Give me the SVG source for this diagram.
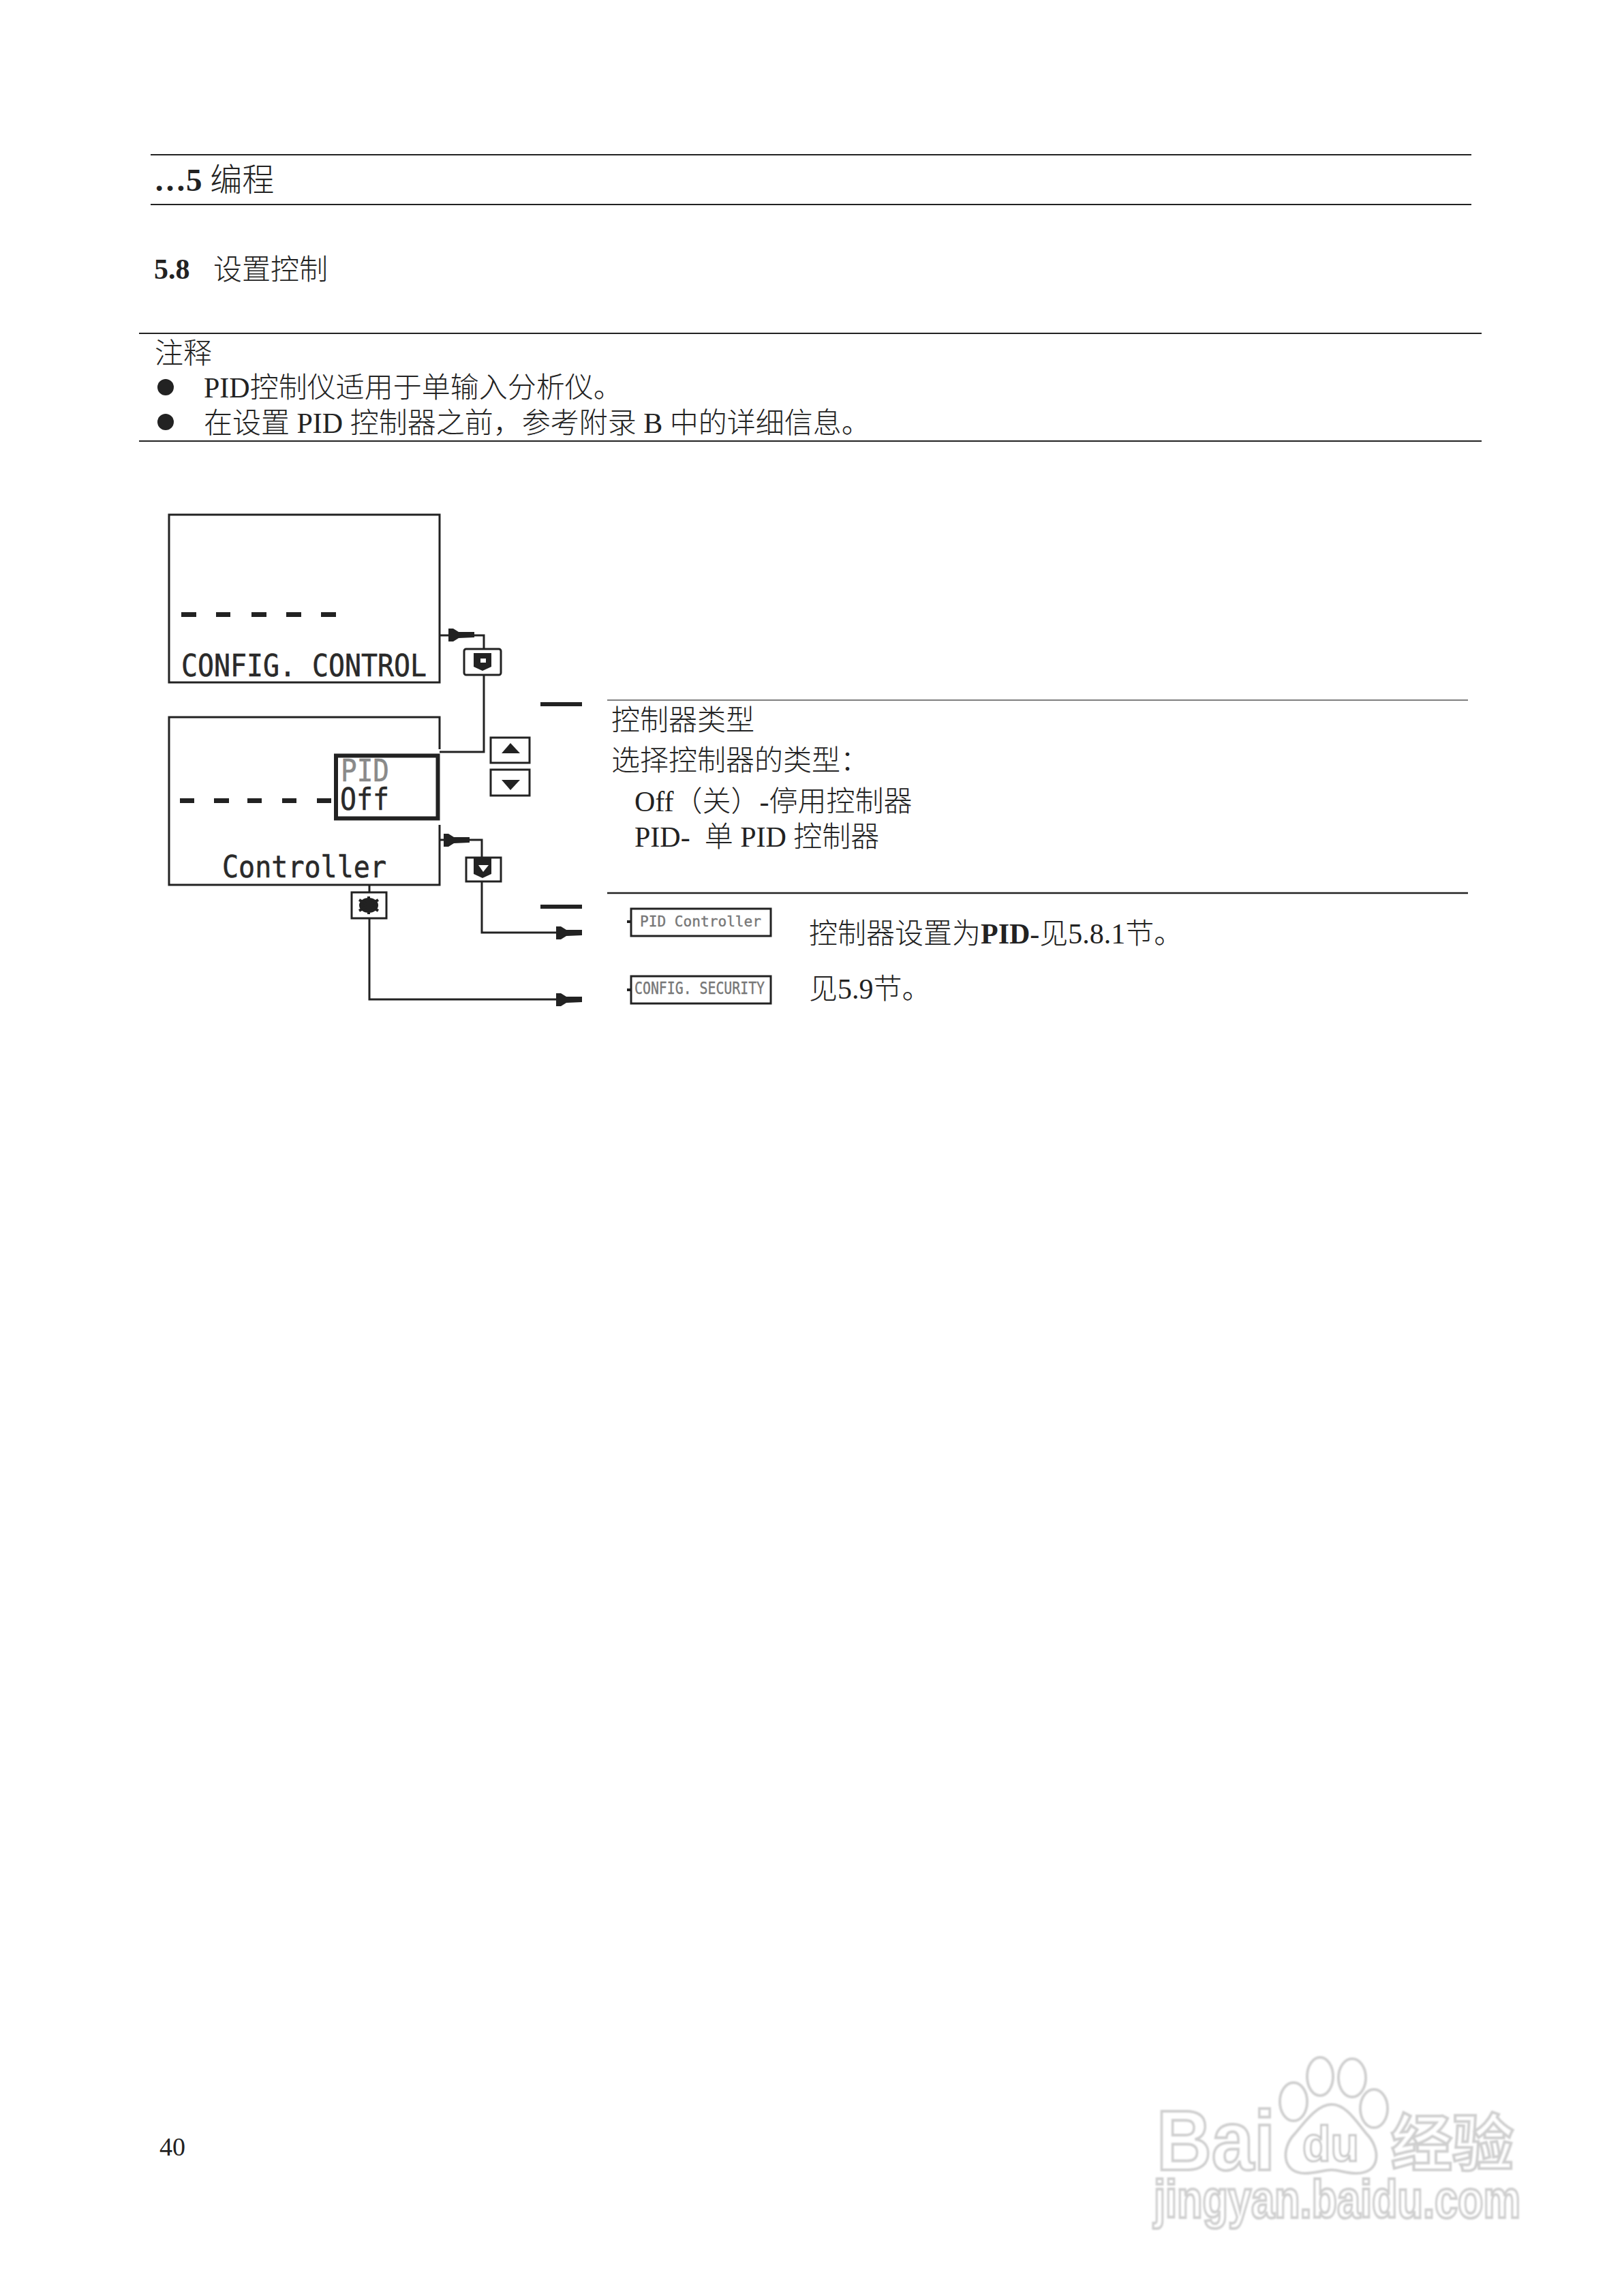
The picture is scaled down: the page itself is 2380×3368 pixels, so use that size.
<svg xmlns="http://www.w3.org/2000/svg" xmlns:xlink="http://www.w3.org/1999/xlink" width="2380" height="3368" viewBox="0 0 2380 3368">
<style>
text{white-space:pre}
.t{font-family:"Liberation Serif","Noto Sans CJK SC",serif;font-size:42px;fill:#222;font-weight:300}
.b{font-weight:700}
.m{font-family:"DejaVu Sans Mono",monospace;font-size:45px;fill:#2a2a2a;stroke:#2a2a2a;stroke-width:.6}
.s{font-family:"DejaVu Sans Mono",monospace;fill:#777;stroke:#777;stroke-width:.4}
.r{stroke:#222;fill:none}
.box{fill:#fff;stroke:#222;stroke-width:3}
.c{fill:none;stroke:#222;stroke-width:3}
.f{fill:#222}
.w{fill:#fff;stroke:#cfcfcf;stroke-width:4}
.wf{font-family:"Liberation Sans","Noto Sans CJK SC",sans-serif;font-weight:700}
</style>
<defs>
<path id="plug" d="M0 -10L7 -10L15 -5L38 -5L38 3L15 4L7 9L0 9Z"/>
<filter id="soft"><feGaussianBlur stdDeviation="1"/></filter>
</defs>
<rect width="2380" height="3368" fill="#fff"/>

<g id="page-text">
<path class="r" stroke-width="2" d="M221 227H2159M221 300H2159"/>
<text class="t" x="226" y="280" style="font-size:47px"><tspan class="b">…5</tspan> 编程</text>
<text class="t" x="226" y="409"><tspan class="b">5.8</tspan></text>
<text class="t" x="313" y="410">设置控制</text>
<path class="r" stroke-width="2" d="M204 489H2174M204 647H2174"/>
<text class="t" x="227" y="533">注释</text>
<circle class="f" cx="243" cy="568" r="12"/>
<text class="t" x="299" y="583">PID控制仪适用于单输入分析仪。</text>
<circle class="f" cx="243" cy="619" r="12"/>
<text class="t" x="299" y="635">在设置 PID 控制器之前，参考附录 B 中的详细信息。</text>
<text class="t" x="234" y="3162" style="font-size:38px">40</text>
</g>

<g id="connectors">
<path class="c" d="M645 932H710V952M710 990V1103H645"/>
<use xlink:href="#plug" href="#plug" class="f" x="658" y="932"/>
<path class="c" d="M645 1232H707V1258M707 1293V1368H820"/>
<use xlink:href="#plug" href="#plug" class="f" x="651" y="1233"/>
<use xlink:href="#plug" href="#plug" class="f" x="816" y="1369"/>
<path class="c" d="M542 1298V1309M542 1347V1466H820"/>
<use xlink:href="#plug" href="#plug" class="f" x="816" y="1467"/>
</g>

<g id="screen-config-control">
<rect class="box" x="248" y="755" width="397" height="246"/>
<path class="f" d="M266 898h22v7h-22zM317 898h21v7h-21zM369 898h22v7h-22zM420 898h22v7h-22zM471 898h22v7h-22z"/>
<text class="m" x="266" y="992" textLength="360" lengthAdjust="spacingAndGlyphs">CONFIG. CONTROL</text>
</g>

<g id="screen-controller">
<path class="c" d="M645 1099V1052H248V1298H645V1210"/>
<path class="f" d="M264 1171h21v7h-21zM314 1171h22v7h-22zM363 1171h21v7h-21zM414 1171h21v7h-21zM465 1171h21v7h-21z"/>
<rect x="493" y="1108.5" width="149.5" height="92" fill="#fff" stroke="#222" stroke-width="6"/>
<text class="m" x="500" y="1146" textLength="71" lengthAdjust="spacingAndGlyphs" style="fill:#8a8a8a;stroke:#8a8a8a">PID</text>
<text class="m" x="499" y="1188" textLength="72" lengthAdjust="spacingAndGlyphs">Off</text>
<text class="m" x="326" y="1287" textLength="241" lengthAdjust="spacingAndGlyphs">Controller</text>
</g>

<g id="button-enter-1">
<rect class="box" x="681" y="952" width="54" height="38" rx="3"/>
<path class="f" d="M695 958H721V978L708 984L695 978Z"/>
<rect x="705" y="966" width="8" height="6" fill="#fff"/>
</g>
<g id="button-up">
<rect class="box" x="720" y="1082" width="57" height="37"/>
<path class="f" d="M749 1090L763 1105H736Z"/>
</g>
<g id="button-down">
<rect class="box" x="720" y="1129" width="57" height="38"/>
<path class="f" d="M736 1144H763L749 1159Z"/>
</g>
<g id="button-enter-2">
<rect class="box" x="684" y="1258" width="51" height="35"/>
<path class="f" d="M695 1258H721V1282L708 1288L695 1282Z"/>
<path d="M702 1269H717L709 1279Z" fill="#fff"/>
</g>
<g id="button-star">
<rect class="box" x="516" y="1309" width="51" height="38"/>
<ellipse class="f" cx="541" cy="1328" rx="14" ry="11"/>
<path d="M541 1315V1341M527 1320L555 1336M555 1320L527 1336" stroke="#222" stroke-width="4" fill="none"/>
</g>

<g id="bars">
<rect class="f" x="793" y="1030" width="61" height="6"/>
<rect class="f" x="793" y="1327" width="61" height="6"/>
</g>

<g id="description">
<path d="M891 1027H2154" stroke="#555" stroke-width="1.5"/>
<text class="t" x="897" y="1071">控制器类型</text>
<text class="t" x="897" y="1130">选择控制器的类型：</text>
<text class="t" x="931" y="1190">Off（关）-停用控制器</text>
<text class="t" x="931" y="1242">PID-  单 PID 控制器</text>
<path d="M891 1310H2154" stroke="#222" stroke-width="2.5"/>
</g>

<g id="next-pid-controller">
<rect class="box" x="926" y="1333" width="205" height="40"/>
<path class="f" d="M920 1350h6v4h-6z"/>
<text class="s" x="939" y="1359" textLength="178" lengthAdjust="spacingAndGlyphs" style="font-size:22px">PID Controller</text>
<text class="t" x="1187" y="1384">控制器设置为<tspan class="b">PID</tspan>-见5.8.1节。</text>
</g>
<g id="next-config-security">
<rect class="box" x="926" y="1432" width="205" height="40"/>
<path class="f" d="M920 1450h6v4h-6z"/>
<text class="s" x="931" y="1458" textLength="191" lengthAdjust="spacingAndGlyphs" style="font-size:24px">CONFIG. SECURITY</text>
<text class="t" x="1187" y="1465">见5.9节。</text>
</g>

<g id="watermark" filter="url(#soft)">
<ellipse class="w" cx="1937" cy="3046" rx="19" ry="28"/>
<ellipse class="w" cx="1984" cy="3048" rx="20" ry="28"/>
<ellipse class="w" cx="1898" cy="3083" rx="20" ry="28"/>
<ellipse class="w" cx="2016" cy="3093" rx="20" ry="28"/>
<path class="w" d="M1954 3087C1975 3087 1990 3112 2005 3130C2025 3150 2028 3188 1990 3188C1975 3188 1965 3183 1954 3183C1943 3183 1930 3188 1915 3188C1880 3188 1880 3150 1900 3130C1915 3112 1933 3087 1954 3087Z"/>
<text class="w wf" x="1697" y="3183" font-size="125" textLength="174" lengthAdjust="spacingAndGlyphs">Bai</text>
<text class="wf" x="1911" y="3170" font-size="72" textLength="83" lengthAdjust="spacingAndGlyphs" fill="#fff" stroke="#c8c8c8" stroke-width="3">du</text>
<text class="w wf" x="2041" y="3176" font-size="90">经验</text>
<text class="w wf" x="1693" y="3253" font-size="78" textLength="538" lengthAdjust="spacingAndGlyphs">jingyan.baidu.com</text>
</g>
</svg>
